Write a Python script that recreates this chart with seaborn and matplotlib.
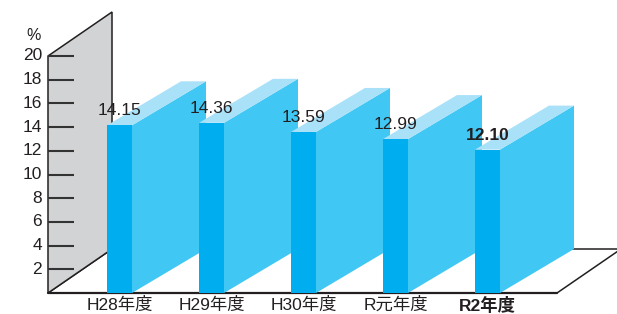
import matplotlib
matplotlib.use("Agg")
import matplotlib.pyplot as plt
import seaborn as sns
import numpy as np

years = ["H28年度", "H29年度", "H30年度", "R元年度", "R2年度"]
rates = [14.15, 14.36, 13.59, 12.99, 12.10]
y_ticks = [2, 4, 6, 8, 10, 12, 14, 16, 18, 20]

front_color = "#00aeef"
side_color = "#40c7f4"
top_color = "#a9e1f9"
wall_color = "#d1d3d4"
ink = "#231f20"

sns.set_style("white")
plt.rcParams["font.family"] = ["Liberation Sans", "Noto Sans CJK JP", "DejaVu Sans"]

# pixel scale of the original: 92 px per category, 11.85 px per percent
px_x = 92.0
px_y = 11.85
bar_w = 25 / px_x
bar_dx, bar_dy = 74 / px_x, 44 / px_y
wall_dx, wall_dy = 64 / px_x, 44 / px_y
wall_x = (48 - 119.5) / px_x
floor_x = (557 - 119.5) / px_x

fig = plt.figure(figsize=(6.17, 3.14), dpi=100)
ax = fig.add_axes([0, 0, 1, 1])

sns.barplot(x=years, y=rates, color=front_color, saturation=1,
            width=bar_w, ax=ax, linewidth=0)

# floor
ax.fill([wall_x, floor_x, floor_x + wall_dx, wall_x + wall_dx],
        [0, 0, wall_dy, wall_dy], facecolor="white", edgecolor=ink,
        linewidth=1.1, zorder=1)
ax.plot([wall_x, floor_x], [0, 0], color=ink, linewidth=1.6, zorder=1.2)

# back wall
ax.fill([wall_x, wall_x, wall_x + wall_dx, wall_x + wall_dx],
        [0, 20, 20 + wall_dy, wall_dy], facecolor=wall_color,
        edgecolor=ink, linewidth=1.1, zorder=1.5)
ax.hlines(y_ticks, wall_x, wall_x + 26 / px_x, color="#333333",
          linewidth=1.5, zorder=1.6)
for t in y_ticks:
    ax.text(wall_x - 6 / px_x, t, str(t), ha="right", va="center",
            fontsize=12.5, color=ink)
ax.text(wall_x - 14 / px_x, 20 + 20 / px_y, "%", ha="center", va="center",
        fontsize=11.5, color=ink)

# 3d faces
for i, (p, v) in enumerate(zip(ax.patches, rates)):
    p.set_zorder(3 + i + 0.5)
    x0 = p.get_x()
    x1 = x0 + p.get_width()
    ax.fill([x1, x1, x1 + bar_dx, x1 + bar_dx], [0, v, v + bar_dy, bar_dy],
            facecolor=side_color, edgecolor="none", zorder=3 + i)
    ax.fill([x0, x1, x1 + bar_dx, x0 + bar_dx],
            [v, v, v + bar_dy, v + bar_dy],
            facecolor=top_color, edgecolor="none", zorder=3 + i)
    weight = "bold" if i == len(rates) - 1 else "normal"
    ax.text(i, v + 0.6, f"{v:.2f}", ha="center", va="bottom",
            fontsize=12.5, fontweight=weight, color=ink, zorder=20)
    ax.text(i, -0.33, years[i], ha="center", va="top", fontsize=12.5,
            fontweight=weight, color=ink, zorder=20)

ax.set_xlim(-119.5 / px_x, (617 - 119.5) / px_x)
ax.set_ylim(-21 / px_y, 293 / px_y)
ax.axis("off")

fig.savefig("out.png", dpi=100)
